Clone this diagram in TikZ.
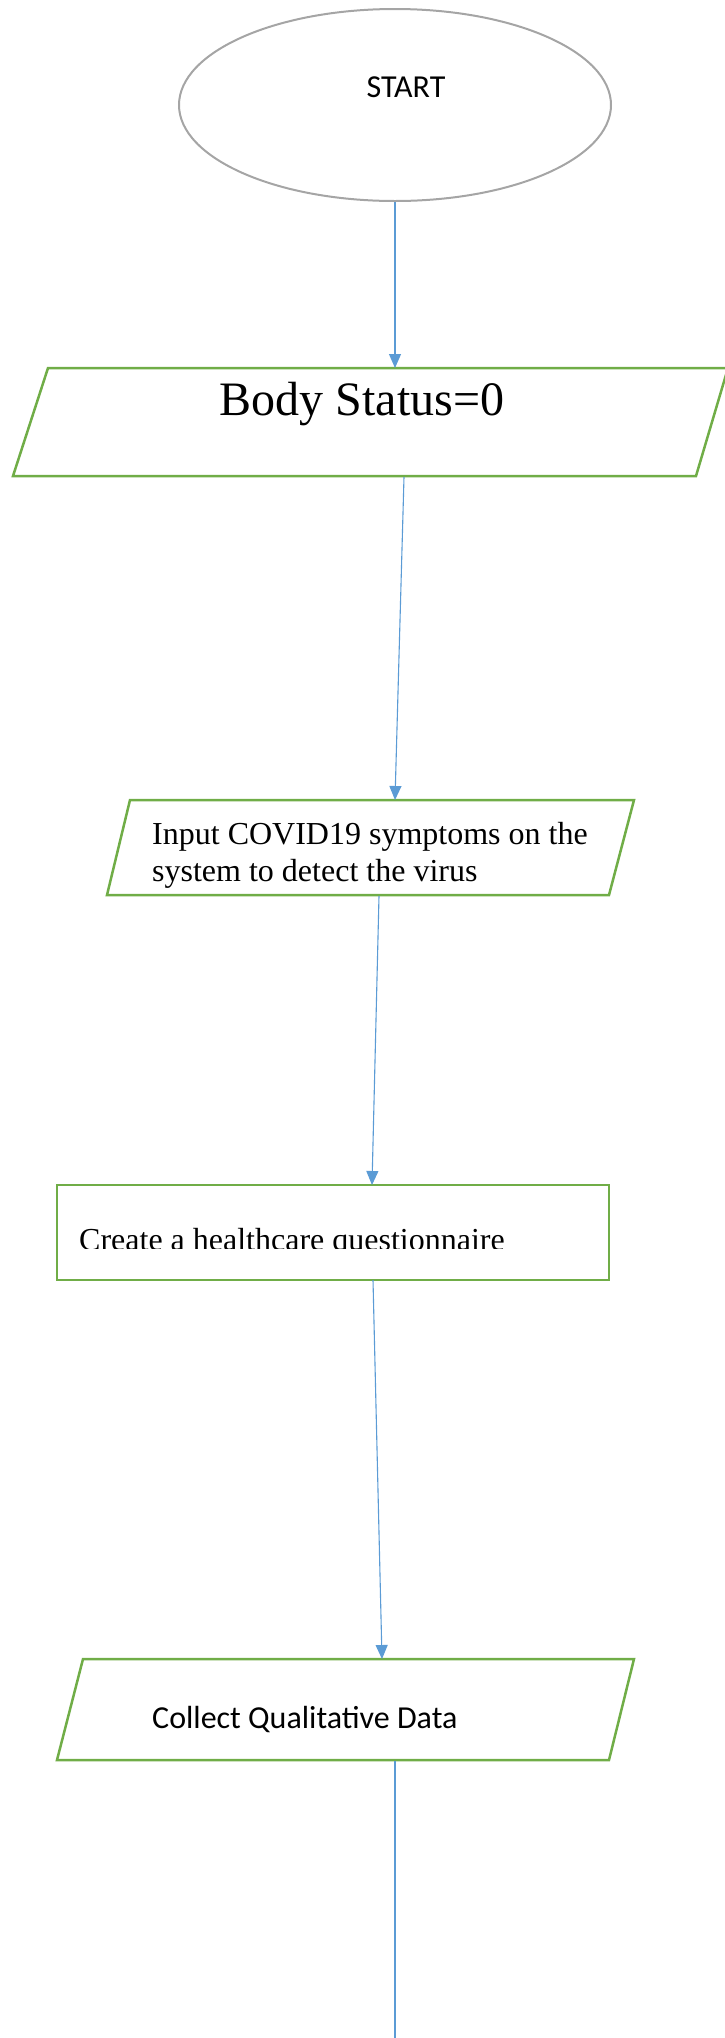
\documentclass[tikz,border=0pt]{standalone}
\usepackage{fontspec}
\setmainfont{Liberation Serif}
\newfontfamily\calib{Carlito}
\usetikzlibrary{shapes.geometric,arrows.meta}
\definecolor{boxgreen}{HTML}{70AD47}
\definecolor{linkblue}{HTML}{5B9BD5}
\definecolor{ovalgray}{HTML}{A5A5A5}
\tikzset{
  gbox/.style={draw=boxgreen, line width=2.5pt, line join=miter},
  conn/.style={draw=linkblue, line width=1.1pt, -{Triangle[length=14pt,width=12pt]}},
  plainconn/.style={draw=linkblue, line width=1.1pt},
  serlbl/.style={inner sep=0pt, anchor=base west, font=\fontsize{32}{37}\selectfont},
  callbl/.style={inner sep=0pt, anchor=base west, font=\calib\fontsize{32}{38}\selectfont}
}
\begin{document}
\begin{tikzpicture}[x=1pt,y=-1pt]
\useasboundingbox (0,0) rectangle (725,2038);
% START
\node[ellipse, draw=ovalgray, line width=2pt, minimum width=432pt, minimum height=192pt, inner sep=0pt] (start) at (395,105) {};
\node[callbl, anchor=base] (startlbl) at (406,97) {START};
% Body Status
\draw[gbox] (48,368) -- (728,368) -- (696,476) -- (13,476) -- cycle;
\coordinate (p1in) at (395,368);
\coordinate (p1out) at (404,477);
\node[inner sep=0pt, anchor=base, font=\fontsize{48}{56}\selectfont] (p1lbl) at (362,415) {Body Status=0};
% Input
\draw[gbox] (130,800) -- (634,800) -- (609,895) -- (107,895) -- cycle;
\coordinate (p2in) at (395,800);
\coordinate (p2out) at (379,896);
\node[serlbl] (p2a) at (152,844) {Input COVID19 symptoms on the};
\node[serlbl] (p2b) at (152,881) {system to detect the virus};
% Questionnaire
\node[draw=boxgreen, line width=2.5pt, minimum width=552pt, minimum height=95pt, inner sep=0pt] (rect) at (333,1232.5) {};
\coordinate (rin) at (372,1185);
\coordinate (rout) at (373,1280);
\begin{scope}
\clip (60,1200) rectangle (600,1248);
\node[serlbl] (rlbl) at (79,1250) {Create a healthcare questionnaire};
\end{scope}
% Collect
\draw[gbox] (83,1659) -- (634,1659) -- (609,1760) -- (57,1760) -- cycle;
\coordinate (p3in) at (382,1659);
\coordinate (p3out) at (395,1761);
\node[callbl] (p3lbl) at (152,1728) {Collect Qualitative Data};
\coordinate (endpt) at (395,2038);
% connectors
\draw[conn] (start.south) -- (p1in);
\draw[conn] (p1out) -- (p2in);
\draw[conn] (p2out) -- (rin);
\draw[conn] (rout) -- (p3in);
\draw[plainconn] (p3out) -- (endpt);
\end{tikzpicture}
\end{document}
